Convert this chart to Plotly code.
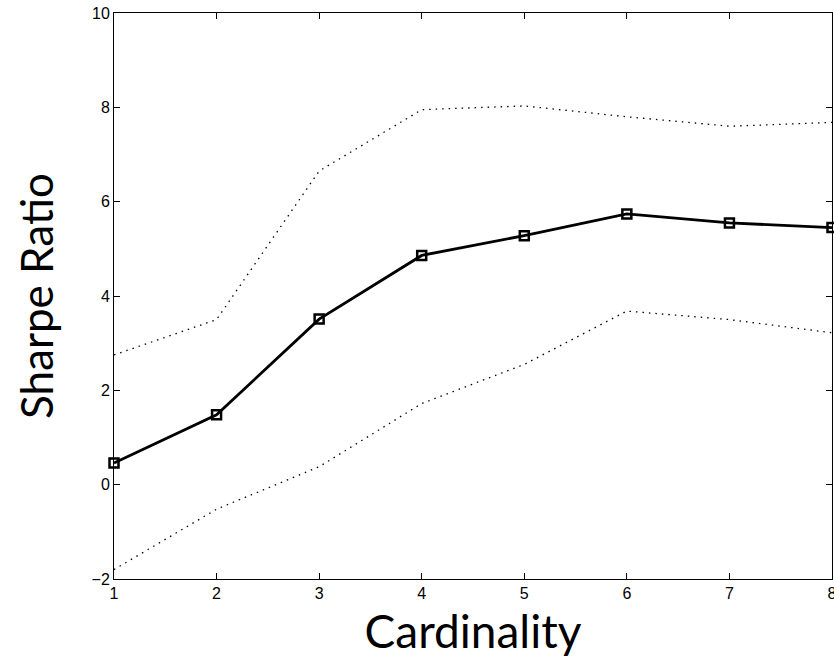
import plotly.graph_objects as go

cardinality = [1, 2, 3, 4, 5, 6, 7, 8]
sharpe_mean = [0.46, 1.48, 3.51, 4.86, 5.28, 5.74, 5.55, 5.45]
sharpe_upper = [2.75, 3.50, 6.65, 7.95, 8.03, 7.80, 7.60, 7.68]
sharpe_lower = [-1.80, -0.52, 0.38, 1.72, 2.55, 3.68, 3.50, 3.22]

x_ticks = [1, 2, 3, 4, 5, 6, 7, 8]
y_ticks = [-2, 0, 2, 4, 6, 8, 10]

fig = go.Figure()
fig.add_trace(go.Scatter(x=cardinality, y=sharpe_upper, mode="lines",
                         line=dict(color="black", width=1.3, dash="1.5px,5px"), showlegend=False))
fig.add_trace(go.Scatter(x=cardinality, y=sharpe_lower, mode="lines",
                         line=dict(color="black", width=1.3, dash="1.5px,5px"), showlegend=False))
fig.add_trace(go.Scatter(x=cardinality, y=sharpe_mean, mode="lines+markers",
                         line=dict(color="black", width=2.8),
                         marker=dict(symbol="square-open", size=9, color="black",
                                     line=dict(width=2.5, color="black")),
                         showlegend=False, cliponaxis=False))

axis_common = dict(showgrid=False, zeroline=False, showline=True, linecolor="black",
                   linewidth=1, mirror="ticks", ticks="inside", ticklen=6,
                   tickcolor="black", tickwidth=1, automargin=False,
                   ticklabeloverflow="allow",
                   tickfont=dict(family="Liberation Sans, Arial", size=16, color="black"))

fig.update_layout(
    width=834, height=670,
    margin=dict(l=114, r=2, t=13, b=91),
    paper_bgcolor="white", plot_bgcolor="white",
    xaxis=dict(range=[1, 8], tickvals=x_ticks,
               title=dict(text="Cardinality", font=dict(family="Lato", size=46, color="black"),
                          standoff=14),
               **axis_common),
    yaxis=dict(range=[-2, 10], tickvals=y_ticks,
               title=dict(text="Sharpe Ratio", font=dict(family="Lato", size=44, color="black"),
                          standoff=24),
               **axis_common),
)

fig.write_html("out.html", config={"displayModeBar": False},
               post_script="document.body.style.margin='0';")
